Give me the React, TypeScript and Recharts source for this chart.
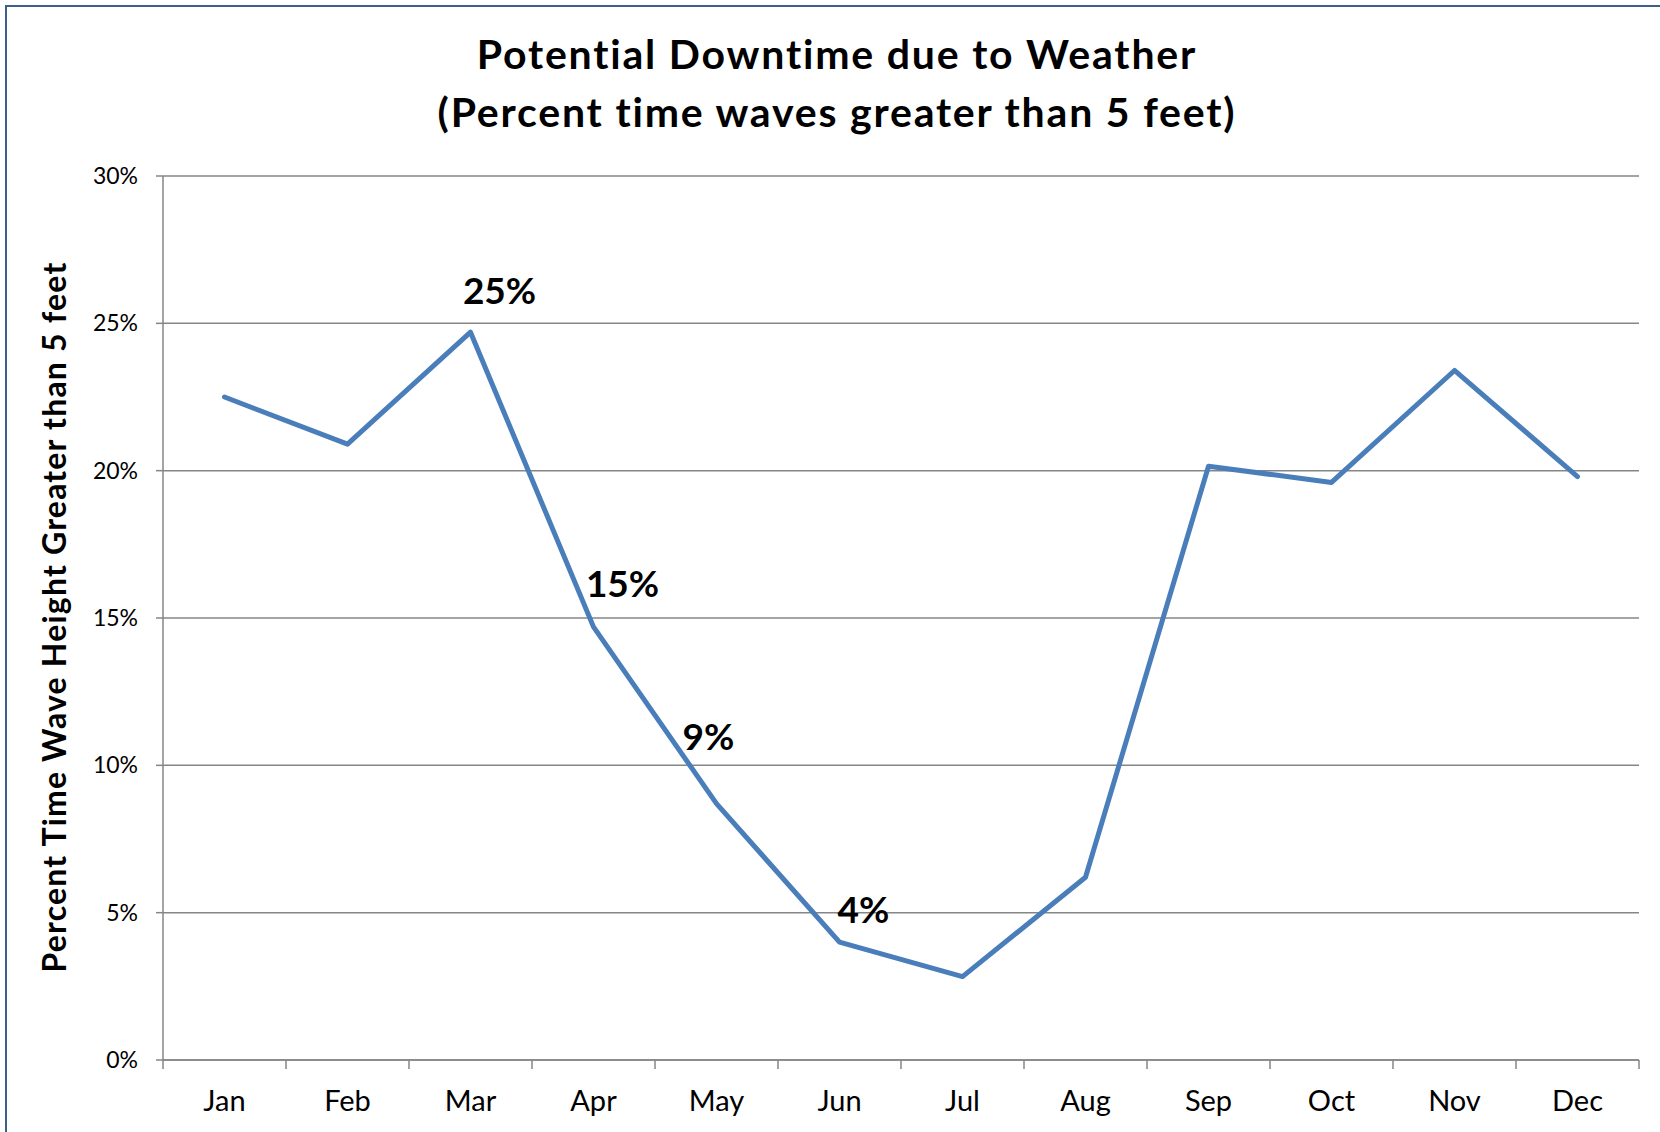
import { LineChart, Line, XAxis, YAxis, CartesianGrid, LabelList } from 'recharts'

// monthly share of time with waves over 5 ft (percent)
const months = ['Jan', 'Feb', 'Mar', 'Apr', 'May', 'Jun', 'Jul', 'Aug', 'Sep', 'Oct', 'Nov', 'Dec']
const downtime = [22.5, 20.9, 24.7, 14.7, 8.7, 4.0, 2.83, 6.2, 20.15, 19.6, 23.4, 19.8]
const pointLabels = ['', '', '25%', '15%', '9%', '4%', '', '', '', '', '', '']
const yTicks = [0, 5, 10, 15, 20, 25, 30]

const title = ['Potential Downtime due to Weather', '(Percent time waves greater than 5 feet)']
const yTitle = 'Percent Time Wave Height Greater than 5 feet'

// the data labels were dragged by hand in the original, so nudge them off the point
const labelNudge: Record<string, [number, number]> = {
  Mar: [29, -43],
  Apr: [29, -44],
  May: [-8, -68],
  Jun: [24, -34],
}

const data = months.map((month, i) => ({ month, value: downtime[i], label: pointLabels[i] }))

const FONT = 'Lato, Carlito, Calibri, sans-serif'
const GRID = '#868686'
const LINE = '#4a7ebb'

function MonthTick(props: any) {
  const { x, y, payload, index, visibleTicksCount, width } = props
  const half = payload.offset || width / visibleTicksCount / 2
  const isLast = index === visibleTicksCount - 1
  return (
    <g>
      <line x1={x - half} x2={x - half} y1={y} y2={y + 9} stroke={GRID} strokeWidth={1.5} />
      {isLast && <line x1={x + half} x2={x + half} y1={y} y2={y + 9} stroke={GRID} strokeWidth={1.5} />}
      <text x={x} y={y + 51} textAnchor="middle" fontFamily={FONT} fontSize={29} fill="#000">
        {payload.value}
      </text>
    </g>
  )
}

function PointLabel(props: any) {
  const { x, y, value, index } = props
  if (!value) return null
  const [dx, dy] = labelNudge[months[index]] || [0, -40]
  return (
    <text
      x={x + dx}
      y={y + dy}
      textAnchor="middle"
      dominantBaseline="central"
      fontFamily={FONT}
      fontWeight={700}
      fontSize={37}
      fill="#000"
    >
      {value}
    </text>
  )
}

export default function App() {
  return (
    <div style={{ position: 'absolute', left: 0, top: 0, width: 1660, height: 1132, background: '#fff', overflow: 'hidden' }}>
      {/* chart frame, runs off the right/bottom edge like the source */}
      <div style={{ position: 'absolute', left: 5, top: 5, width: 1680, height: 1160, border: '2px solid #3a5f8f', boxSizing: 'border-box' }} />

      <div
        style={{
          position: 'absolute',
          left: 6,
          top: 25,
          width: 1662,
          textAlign: 'center',
          fontFamily: FONT,
          fontWeight: 700,
          fontSize: 41,
          letterSpacing: 1.8,
          lineHeight: '58px',
          color: '#000',
        }}
      >
        <div>{title[0]}</div>
        <div>{title[1]}</div>
      </div>

      <div
        style={{
          position: 'absolute',
          left: 53,
          top: 617,
          transform: 'translate(-50%, -50%) rotate(-90deg)',
          whiteSpace: 'nowrap',
          fontFamily: FONT,
          fontWeight: 700,
          fontSize: 32,
          letterSpacing: 1.2,
          color: '#000',
        }}
      >
        {yTitle}
      </div>

      <div style={{ position: 'absolute', left: 0, top: 0 }}>
        <LineChart width={1660} height={1132} data={data} margin={{ top: 176, right: 21, bottom: 0, left: 0 }}>
          <CartesianGrid vertical={false} stroke={GRID} strokeWidth={1.5} />
          <XAxis
            dataKey="month"
            scale="band"
            interval={0}
            height={72}
            axisLine={{ stroke: GRID, strokeWidth: 1.5 }}
            tickLine={false}
            tickSize={0}
            tickMargin={0}
            tick={<MonthTick />}
          />
          <YAxis
            width={163}
            domain={[0, 30]}
            ticks={yTicks}
            interval={0}
            tickFormatter={(v) => `${v}%`}
            axisLine={{ stroke: GRID, strokeWidth: 1.5 }}
            tickLine={{ stroke: GRID, strokeWidth: 1.5 }}
            tickSize={7}
            tickMargin={18}
            tick={{ fill: '#000', fontSize: 23, fontFamily: FONT }}
          />
          <Line
            type="linear"
            dataKey="value"
            stroke={LINE}
            strokeWidth={5}
            strokeLinecap="round"
            strokeLinejoin="round"
            dot={false}
            activeDot={false}
            isAnimationActive={false}
          >
            <LabelList dataKey="label" content={<PointLabel />} />
          </Line>
        </LineChart>
      </div>
    </div>
  )
}
